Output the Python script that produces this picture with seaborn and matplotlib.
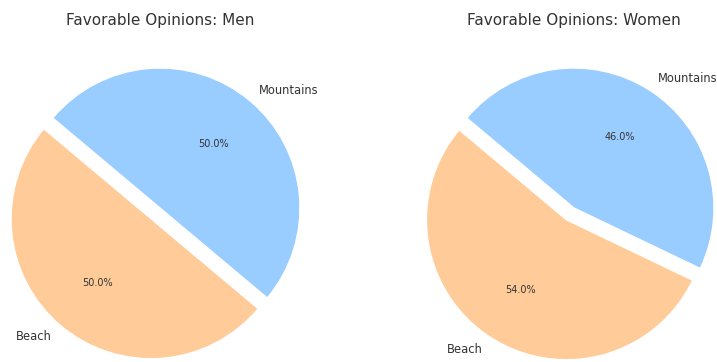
import matplotlib
matplotlib.use("Agg")
import matplotlib.pyplot as plt
import seaborn as sns

sns.set_theme(style="white")
plt.rcParams['font.family'] = ['DejaVu Sans']

# Survey shares (percent) for each destination
categories = ["Beach", "Mountains"]
men_share = [50.0, 50.0]
women_share = [54.0, 46.0]
titles = ["Favorable Opinions: Men", "Favorable Opinions: Women"]

palette = ["#ffcc99", "#99ccff"]
explode = (0.1, 0)

W, H = 717, 362
fig = plt.figure(figsize=(W / 100, H / 100), dpi=100)

# pie centres (px from left, px from top) and radius in px
centres = [(160, 208), (574, 208)]
radius_px = 140
box = 2.5 * radius_px

for (cx, cy), shares, title in zip(centres, [men_share, women_share], titles):
    left = (cx - box / 2) / W
    bottom = ((H - cy) - box / 2) / H
    ax = fig.add_axes([left, bottom, box / W, box / H])
    wedges, texts, autotexts = ax.pie(
        shares, labels=categories, colors=palette, explode=explode,
        startangle=140, autopct="%1.1f%%",
        textprops={"fontsize": 8.3, "color": "#333333"},
    )
    for t in autotexts:
        t.set_fontsize(7)
        t.set_color("#333333")
    ax.set_title(title, fontsize=11, color="#333333", pad=6)
    ax.set_aspect("equal")

fig.savefig("out.png", dpi=100)
